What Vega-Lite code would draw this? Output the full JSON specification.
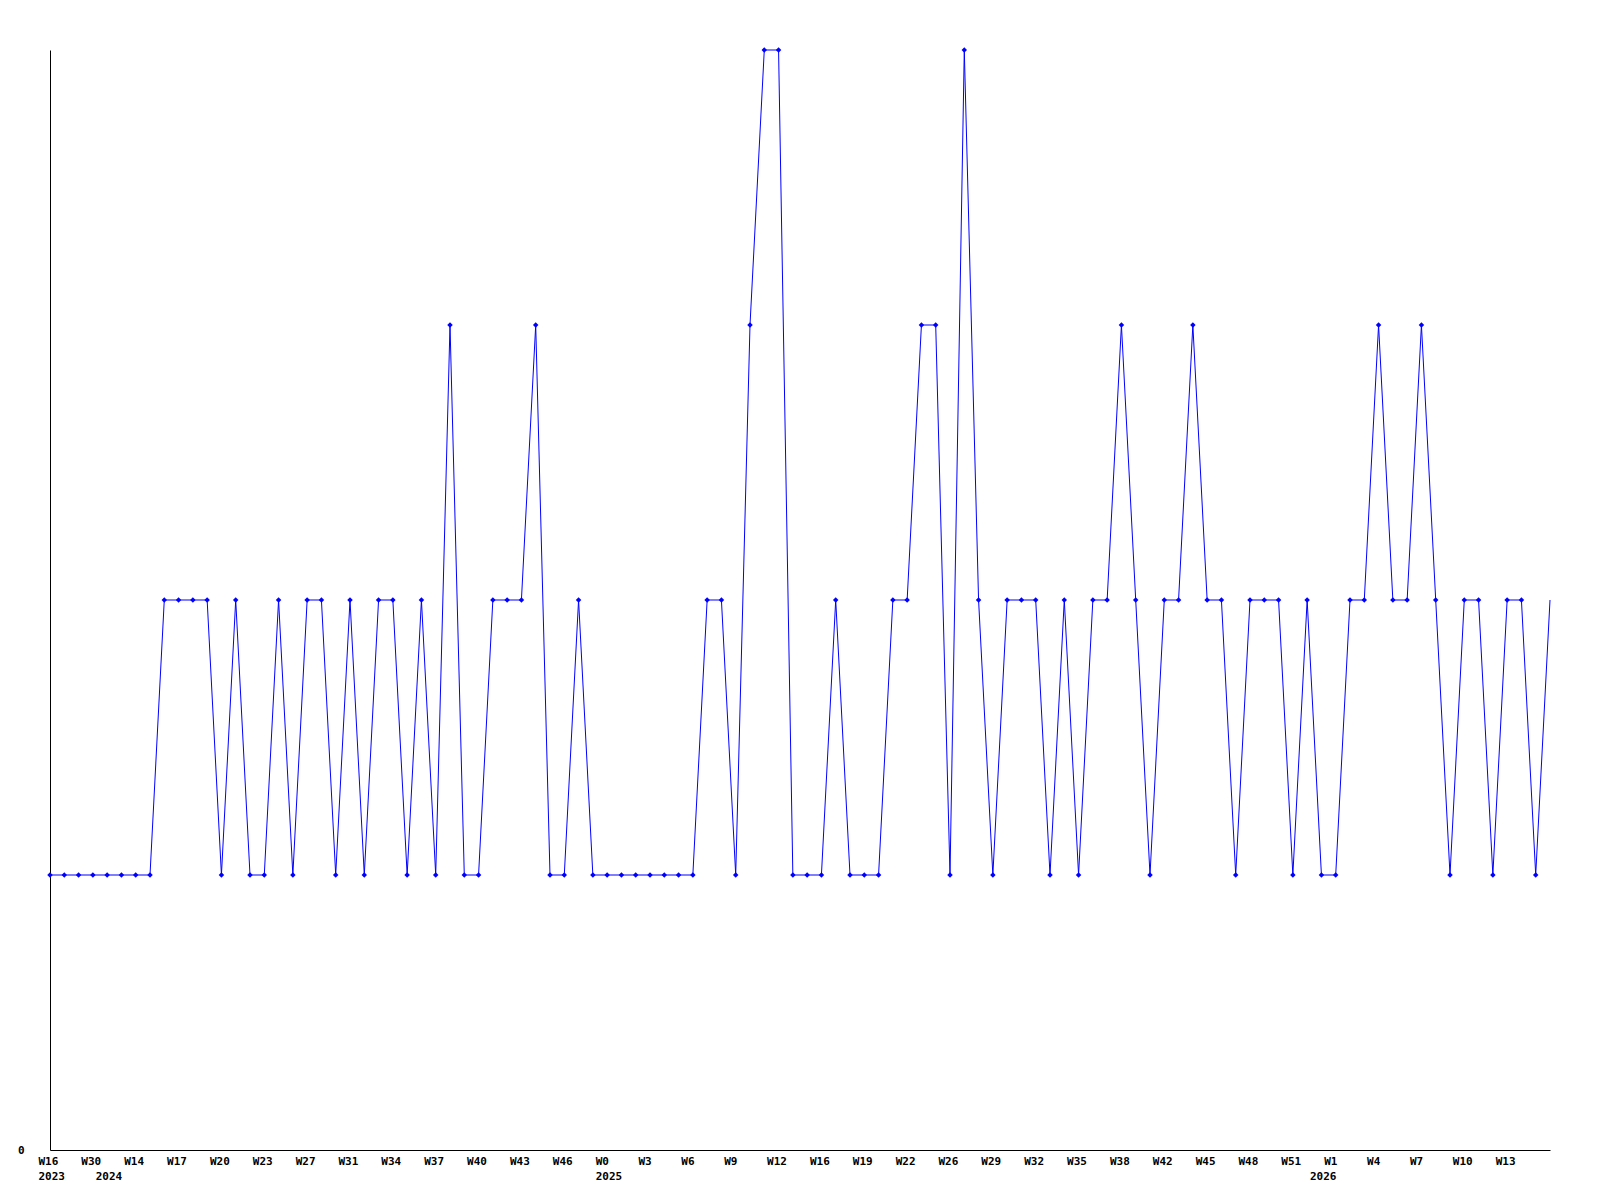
{
  "$schema": "https://vega.github.io/schema/vega-lite/v6.json",
  "autosize": {"type": "none"},
  "padding": {"left": 50, "top": 50, "right": 50, "bottom": 50},
  "width": 1500,
  "height": 1100,
  "background": "white",
  "config": {"view": {"stroke": null}},
  "data": {"values": [
    {"slot": "000|W16|2023", "value": 1},
    {"slot": "001||", "value": 1},
    {"slot": "002||", "value": 1},
    {"slot": "003|W30|", "value": 1},
    {"slot": "004||2024", "value": 1},
    {"slot": "005||", "value": 1},
    {"slot": "006|W14|", "value": 1},
    {"slot": "007||", "value": 1},
    {"slot": "008||", "value": 2},
    {"slot": "009|W17|", "value": 2},
    {"slot": "010||", "value": 2},
    {"slot": "011||", "value": 2},
    {"slot": "012|W20|", "value": 1},
    {"slot": "013||", "value": 2},
    {"slot": "014||", "value": 1},
    {"slot": "015|W23|", "value": 1},
    {"slot": "016||", "value": 2},
    {"slot": "017||", "value": 1},
    {"slot": "018|W27|", "value": 2},
    {"slot": "019||", "value": 2},
    {"slot": "020||", "value": 1},
    {"slot": "021|W31|", "value": 2},
    {"slot": "022||", "value": 1},
    {"slot": "023||", "value": 2},
    {"slot": "024|W34|", "value": 2},
    {"slot": "025||", "value": 1},
    {"slot": "026||", "value": 2},
    {"slot": "027|W37|", "value": 1},
    {"slot": "028||", "value": 3},
    {"slot": "029||", "value": 1},
    {"slot": "030|W40|", "value": 1},
    {"slot": "031||", "value": 2},
    {"slot": "032||", "value": 2},
    {"slot": "033|W43|", "value": 2},
    {"slot": "034||", "value": 3},
    {"slot": "035||", "value": 1},
    {"slot": "036|W46|", "value": 1},
    {"slot": "037||", "value": 2},
    {"slot": "038||", "value": 1},
    {"slot": "039|W0|2025", "value": 1},
    {"slot": "040||", "value": 1},
    {"slot": "041||", "value": 1},
    {"slot": "042|W3|", "value": 1},
    {"slot": "043||", "value": 1},
    {"slot": "044||", "value": 1},
    {"slot": "045|W6|", "value": 1},
    {"slot": "046||", "value": 2},
    {"slot": "047||", "value": 2},
    {"slot": "048|W9|", "value": 1},
    {"slot": "049||", "value": 3},
    {"slot": "050||", "value": 4},
    {"slot": "051|W12|", "value": 4},
    {"slot": "052||", "value": 1},
    {"slot": "053||", "value": 1},
    {"slot": "054|W16|", "value": 1},
    {"slot": "055||", "value": 2},
    {"slot": "056||", "value": 1},
    {"slot": "057|W19|", "value": 1},
    {"slot": "058||", "value": 1},
    {"slot": "059||", "value": 2},
    {"slot": "060|W22|", "value": 2},
    {"slot": "061||", "value": 3},
    {"slot": "062||", "value": 3},
    {"slot": "063|W26|", "value": 1},
    {"slot": "064||", "value": 4},
    {"slot": "065||", "value": 2},
    {"slot": "066|W29|", "value": 1},
    {"slot": "067||", "value": 2},
    {"slot": "068||", "value": 2},
    {"slot": "069|W32|", "value": 2},
    {"slot": "070||", "value": 1},
    {"slot": "071||", "value": 2},
    {"slot": "072|W35|", "value": 1},
    {"slot": "073||", "value": 2},
    {"slot": "074||", "value": 2},
    {"slot": "075|W38|", "value": 3},
    {"slot": "076||", "value": 2},
    {"slot": "077||", "value": 1},
    {"slot": "078|W42|", "value": 2},
    {"slot": "079||", "value": 2},
    {"slot": "080||", "value": 3},
    {"slot": "081|W45|", "value": 2},
    {"slot": "082||", "value": 2},
    {"slot": "083||", "value": 1},
    {"slot": "084|W48|", "value": 2},
    {"slot": "085||", "value": 2},
    {"slot": "086||", "value": 2},
    {"slot": "087|W51|", "value": 1},
    {"slot": "088||", "value": 2},
    {"slot": "089||2026", "value": 1},
    {"slot": "090|W1|", "value": 1},
    {"slot": "091||", "value": 2},
    {"slot": "092||", "value": 2},
    {"slot": "093|W4|", "value": 3},
    {"slot": "094||", "value": 2},
    {"slot": "095||", "value": 2},
    {"slot": "096|W7|", "value": 3},
    {"slot": "097||", "value": 2},
    {"slot": "098||", "value": 1},
    {"slot": "099|W10|", "value": 2},
    {"slot": "100||", "value": 2},
    {"slot": "101||", "value": 1},
    {"slot": "102|W13|", "value": 2},
    {"slot": "103||", "value": 2},
    {"slot": "104||", "value": 1},
    {"slot": "105||", "value": 2}
  ]},
  "encoding": {
    "x": {
      "field": "slot", "type": "ordinal",
      "scale": {"type": "point", "padding": 0},
      "axis": {
        "title": null,
        "ticks": false,
        "grid": false,
        "domainColor": "black",
        "domainWidth": 1,
        "labelAngle": 0,
        "labelAlign": "left",
        "labelBaseline": "top",
        "labelOffset": -12,
        "labelPadding": 5,
        "labelLineHeight": 15,
        "labelOverlap": false,
        "labelBound": false,
        "labelFlush": false,
        "labelFont": "DejaVu Sans Mono",
        "labelFontWeight": "bold",
        "labelFontSize": 11,
        "labelColor": "black",
        "labelExpr": "[split(datum.value, '|')[1], split(datum.value, '|')[2]]"
      }
    },
    "y": {
      "field": "value", "type": "quantitative",
      "scale": {"domain": [0, 4], "nice": false, "zero": true},
      "axis": {
        "title": null,
        "grid": false,
        "ticks": false,
        "values": [0],
        "domainColor": "black",
        "domainWidth": 1,
        "labelPadding": 26,
        "labelFont": "DejaVu Sans Mono",
        "labelFontWeight": "bold",
        "labelFontSize": 11,
        "labelColor": "black"
      }
    }
  },
  "layer": [
    {"mark": {"type": "line", "color": "#0000ff", "strokeWidth": 1}},
    {
      "transform": [{"filter": "datum.slot != '105||'"}],
      "mark": {"type": "point", "shape": "diamond", "filled": true, "color": "#0000ff", "size": 30, "opacity": 1}
    }
  ]
}
